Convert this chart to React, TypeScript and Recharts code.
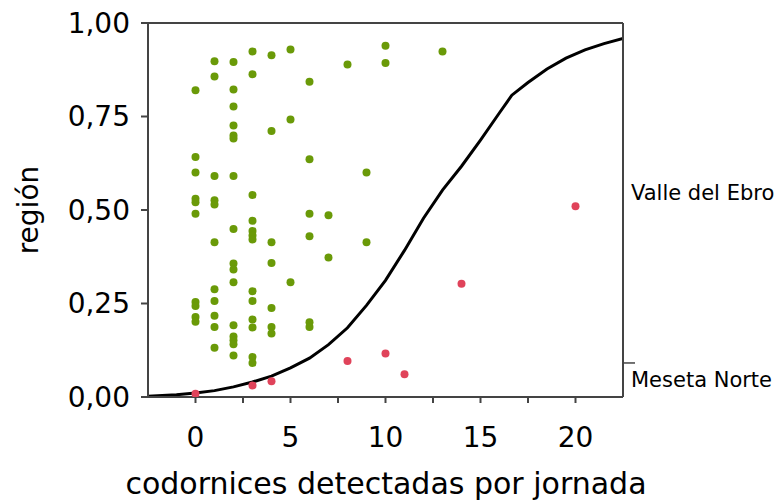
import { ComposedChart, Scatter, Line, XAxis, YAxis, ReferenceLine } from 'recharts';

// Valle del Ebro observations (green)
const EBRO_POINTS = [
    { x: 0, y: 0.820 }, { x: 0, y: 0.642 }, { x: 0, y: 0.600 }, { x: 0, y: 0.530 }, { x: 0, y: 0.521 },
    { x: 0, y: 0.490 }, { x: 0, y: 0.254 }, { x: 0, y: 0.243 }, { x: 0, y: 0.214 }, { x: 0, y: 0.201 },
    { x: 1, y: 0.898 }, { x: 1, y: 0.857 }, { x: 1, y: 0.591 }, { x: 1, y: 0.526 }, { x: 1, y: 0.515 },
    { x: 1, y: 0.414 }, { x: 1, y: 0.288 }, { x: 1, y: 0.257 }, { x: 1, y: 0.217 }, { x: 1, y: 0.187 },
    { x: 1, y: 0.132 },
    { x: 2, y: 0.896 }, { x: 2, y: 0.822 }, { x: 2, y: 0.777 }, { x: 2, y: 0.726 }, { x: 2, y: 0.699 },
    { x: 2, y: 0.691 }, { x: 2, y: 0.591 }, { x: 2, y: 0.449 }, { x: 2, y: 0.357 }, { x: 2, y: 0.341 },
    { x: 2, y: 0.307 }, { x: 2, y: 0.192 }, { x: 2, y: 0.162 }, { x: 2, y: 0.152 }, { x: 2, y: 0.141 },
    { x: 2, y: 0.111 },
    { x: 3, y: 0.924 }, { x: 3, y: 0.863 }, { x: 3, y: 0.540 }, { x: 3, y: 0.471 }, { x: 3, y: 0.444 },
    { x: 3, y: 0.432 }, { x: 3, y: 0.421 }, { x: 3, y: 0.283 }, { x: 3, y: 0.257 }, { x: 3, y: 0.207 },
    { x: 3, y: 0.186 }, { x: 3, y: 0.107 }, { x: 3, y: 0.091 },
    { x: 4, y: 0.914 }, { x: 4, y: 0.711 }, { x: 4, y: 0.414 }, { x: 4, y: 0.358 }, { x: 4, y: 0.238 },
    { x: 4, y: 0.187 }, { x: 4, y: 0.170 },
    { x: 5, y: 0.929 }, { x: 5, y: 0.742 }, { x: 5, y: 0.307 },
    { x: 6, y: 0.843 }, { x: 6, y: 0.636 }, { x: 6, y: 0.490 }, { x: 6, y: 0.430 }, { x: 6, y: 0.200 },
    { x: 6, y: 0.187 },
    { x: 7, y: 0.486 }, { x: 7, y: 0.373 },
    { x: 8, y: 0.889 },
    { x: 9, y: 0.600 }, { x: 9, y: 0.414 },
    { x: 10, y: 0.939 }, { x: 10, y: 0.893 },
    { x: 13, y: 0.924 },
];

// Meseta Norte observations (red)
const MESETA_POINTS = [
    { x: 0, y: 0.009 }, { x: 3, y: 0.031 }, { x: 4, y: 0.042 }, { x: 8, y: 0.096 },
    { x: 10, y: 0.116 }, { x: 11, y: 0.061 }, { x: 14, y: 0.303 }, { x: 20, y: 0.510 },
];

// fitted logistic curve
const FIT_CURVE = [
    { x: -2.5, y: 0.002 }, { x: -1, y: 0.006 }, { x: 0, y: 0.011 }, { x: 1, y: 0.017 },
    { x: 2, y: 0.027 }, { x: 3, y: 0.040 }, { x: 4, y: 0.056 }, { x: 5, y: 0.078 },
    { x: 6, y: 0.104 }, { x: 7, y: 0.140 }, { x: 8, y: 0.185 }, { x: 9, y: 0.245 },
    { x: 10, y: 0.312 }, { x: 11, y: 0.392 }, { x: 12, y: 0.478 }, { x: 13, y: 0.553 },
    { x: 14, y: 0.617 }, { x: 15, y: 0.687 }, { x: 16, y: 0.760 }, { x: 16.65, y: 0.807 },
    { x: 17.5, y: 0.841 }, { x: 18.5, y: 0.877 }, { x: 19.5, y: 0.906 }, { x: 20.5, y: 0.928 },
    { x: 21.5, y: 0.945 }, { x: 22.5, y: 0.959 },
];

const X_TICKS = [0, 2.5, 5, 7.5, 10, 12.5, 15, 17.5, 20];
const Y_TICKS = [0, 0.25, 0.5, 0.75, 1];

// proportion of Meseta Norte, and label positions in the middle of each band
const SPLIT = 0.091;
const REGION_LABELS = [
    { value: 0.0455, name: 'Meseta Norte' },
    { value: 0.5455, name: 'Valle del Ebro' },
];

const FONT = '"DejaVu Sans", Verdana, sans-serif';
const AXIS = '#444';
const GREEN = '#6a9a08';
const RED = '#e0435a';

const dot = (color: string) => (props: any) =>
    <circle cx={props.cx} cy={props.cy} r={4} fill={color} />;

const RightTick = (props: any) => {
    const { x, y, payload } = props;
    if (payload.value === SPLIT) {
        return <line x1={x} x2={x + 12} y1={y} y2={y} stroke={AXIS} strokeWidth={1.5} />;
    }
    const lab = REGION_LABELS.find(l => l.value === payload.value);
    return <text x={x + 8} y={y} dominantBaseline="central" fontSize={21} fontFamily={FONT} fill="#000">
        {lab ? lab.name : ''}
    </text>;
};

export default function App() {
    return <div style={{ position: 'absolute', left: 0, top: 0, background: '#fff' }}>
        <ComposedChart width={779} height={501} margin={{ top: 23, right: 0, bottom: 0, left: 0 }}>
            <XAxis
                dataKey="x"
                type="number"
                domain={[-2.5, 22.5]}
                ticks={X_TICKS}
                allowDataOverflow
                tickFormatter={(v: number) => (v % 5 === 0 ? String(v) : '')}
                height={104}
                tickSize={6}
                tickMargin={24}
                stroke={AXIS}
                strokeWidth={2}
                tick={{ fontSize: 28, fontFamily: FONT, fill: '#000' }}
            />
            <YAxis
                dataKey="y"
                type="number"
                domain={[0, 1]}
                ticks={Y_TICKS}
                width={148}
                tickSize={7}
                tickMargin={11}
                stroke={AXIS}
                strokeWidth={2}
                tickFormatter={(v: number) => v.toFixed(2).replace('.', ',')}
                tick={{ fontSize: 28, fontFamily: FONT, fill: '#000' }}
            />
            <YAxis
                yAxisId="r"
                orientation="right"
                dataKey="y"
                type="number"
                domain={[0, 1]}
                allowDataOverflow
                ticks={[REGION_LABELS[0].value, SPLIT, REGION_LABELS[1].value]}
                interval={0}
                width={156}
                tickSize={0}
                tickMargin={0}
                tickLine={false}
                stroke={AXIS}
                strokeWidth={2}
                tick={RightTick}
            />
            <ReferenceLine y={1} stroke={AXIS} strokeWidth={2} />
            <Scatter data={EBRO_POINTS} shape={dot(GREEN)} isAnimationActive={false} />
            <Scatter yAxisId="r" data={MESETA_POINTS} shape={dot(RED)} isAnimationActive={false} />
            <Line
                data={FIT_CURVE}
                dataKey="y"
                type="linear"
                dot={false}
                stroke="#000"
                strokeWidth={3}
                isAnimationActive={false}
            />
            <text x={386} y={483} textAnchor="middle" dominantBaseline="central" fontSize={30} fontFamily={FONT} fill="#000">
                codornices detectadas por jornada
            </text>
            <text x={28} y={210} textAnchor="middle" dominantBaseline="central" fontSize={28} fontFamily={FONT} fill="#000"
                transform="rotate(-90 28 210)">
                región
            </text>
        </ComposedChart>
    </div>;
}
